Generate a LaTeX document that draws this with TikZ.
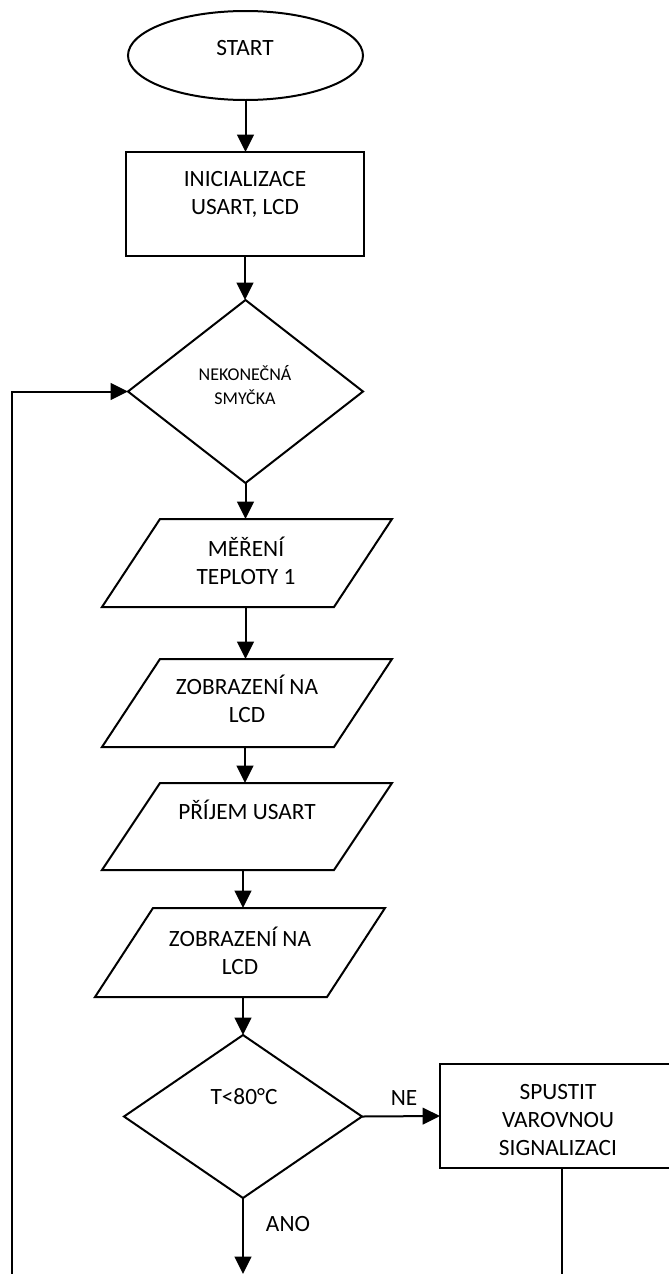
\documentclass[tikz,border=0pt]{standalone}
\usepackage{fontspec}
\setmainfont{Carlito}
\usetikzlibrary{shapes.geometric,arrows.meta}
\begin{document}
\begin{tikzpicture}[x=0.75pt,y=-0.75pt,
  every node/.style={inner sep=0pt, outer sep=0pt},
  shapeline/.style={draw=black, line width=1.5pt},
  term/.style={shapeline, ellipse, minimum width=176.25pt, minimum height=66.75pt},
  proc/.style={shapeline, rectangle, minimum width=178.5pt, minimum height=78pt},
  dec/.style={shapeline, diamond, minimum width=176.25pt, minimum height=137.25pt},
  iobox/.style={rectangle, minimum width=217.5pt, minimum height=66pt},
  txt/.style={font=\fontsize{17.5}{21}\selectfont, align=center},
  smalltxt/.style={font=\fontsize{13.5}{18}\selectfont, align=center},
  conn/.style={line width=1.5pt},
  arr/.style={conn, -{Triangle[length=13pt,width=12.5pt]}}
]
\useasboundingbox (0,0) rectangle (668,1274);

% shapes
\node[term] (start) at (245.5,55.5) {};
\node[proc] (init) at (245,204) {};
\node[dec] (loop) at (245.5,391.5) {};
\node[iobox] (p1) at (247,563) {};
\node[iobox] (p2) at (247,703) {};
\node[iobox, minimum height=65.25pt] (p3) at (247,826.5) {};
\node[iobox, minimum height=66.75pt] (p4) at (240,952.5) {};
\node[dec, minimum width=178.5pt, minimum height=122.25pt] (cond) at (243,1116.5) {};
\node[proc, minimum width=183pt] (warn) at (562,1116) {};

% parallelogram outlines (input/output blocks)
\foreach \p in {p1,p2,p3,p4}{
  \draw[shapeline, line join=miter]
    ([xshift=43.5pt]\p.north west) -- (\p.north east)
    -- ([xshift=-43.5pt]\p.south east) -- (\p.south west) -- cycle;
}

% texts
\node[txt] (tstart) at (245,48) {START};
\node[txt] (tinit) at (245,194) {INICIALIZACE\\USART, LCD};
\node[smalltxt] (tloop) at (245,385) {NEKONEČNÁ\\SMYČKA};
\node[txt] (tp1) at (246,561) {MĚŘENÍ\\TEPLOTY 1};
\node[txt] (tp2) at (247,699) {ZOBRAZENÍ NA\\LCD};
\node[txt] (tp3) at (247,810) {PŘÍJEM USART};
\node[txt] (tp4) at (240,950.5) {ZOBRAZENÍ NA\\LCD};
\node[txt] (tcond) at (244,1097) {T<80°C};
\node[txt] (twarn) at (558,1120) {SPUSTIT\\VAROVNOU\\SIGNALIZACI};
\node[txt] (tne) at (404,1098) {NE};
\node[txt] (tano) at (288,1224) {ANO};

% free ends
\coordinate (anoend) at (243,1274);
\coordinate (warnend) at (562,1274);
\coordinate (back) at (12,1274);

% connectors
\draw[arr] (start.south) -- (start.south |- init.north);
\draw[arr] (init.south) -- (init.south |- loop.north);
\draw[arr] (loop.south) -- (loop.south |- p1.north);
\draw[arr] (loop.south |- p1.south) -- (loop.south |- p2.north);
\draw[arr] (init.south |- p2.south) -- (init.south |- p3.north);
\draw[arr] (cond.north |- p3.south) -- (cond.north |- p4.north);
\draw[arr] (cond.north |- p4.south) -- (cond.north);
\draw[arr] (cond.east) -- (warn.west);
\draw[arr] (cond.south) -- (anoend);
\draw[conn] (warn.south) -- (warnend);
\draw[arr] (back) |- (loop.west);
\end{tikzpicture}
\end{document}
